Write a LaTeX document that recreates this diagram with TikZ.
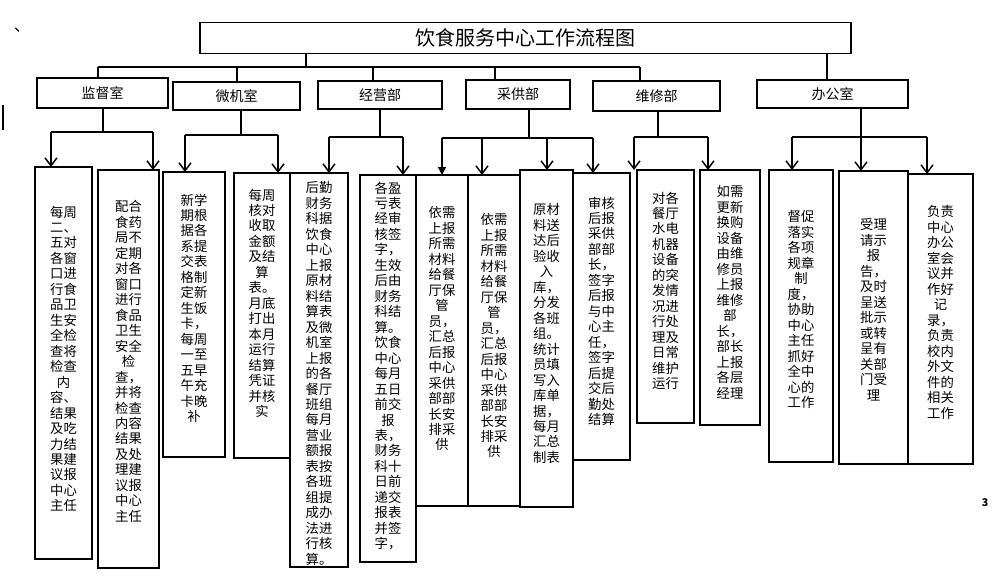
\documentclass[tikz,border=0pt]{standalone}
\usepackage{fontspec}
\setmainfont{Noto Sans CJK SC}
\usetikzlibrary{arrows.meta}

\tikzset{every picture/.style={line width=1.1pt}}
\tikzset{
  head/.style={draw, inner sep=0pt, outer sep=0pt, font=\fontsize{10.5}{12}\selectfont},
  leaf/.style={draw, inner sep=0pt, outer sep=0pt},
  txt/.style={align=center, inner sep=0pt, font=\fontsize{10}{11.6}\selectfont},
  arr/.style={-{Straight Barb[length=6pt,width=9pt]}},
  farr/.style={-{Triangle[length=6pt,width=6pt]}}
}
% box: name, x1, y1, x2, y2, text top, text
\newcommand\leaf[7]{%
  \node[leaf, minimum width={(#4-#2)*0.75pt}, minimum height={(#5-#3)*0.75pt}] (#1) at ({(#2+#4)/2},{(#3+#5)/2}) {};
  \node[txt, anchor=north] (#1t) at ({(#2+#4)/2},#6) {#7};}
\newcommand\head[6]{%
  \node[head, minimum width={(#4-#2)*0.75pt}, minimum height={(#5-#3)*0.75pt}] (#1) at ({(#2+#4)/2},{(#3+#5)/2}) {#6};}

\begin{document}
\begin{tikzpicture}[x=0.75pt,y=0.75pt,yscale=-1,xscale=1]
\useasboundingbox (0,0) rectangle (994,576);

% Title
\node[leaf, minimum width={651*0.75pt}, minimum height={31*0.75pt}, font=\fontsize{15}{18}\selectfont] (title) at (525.5,38) {饮食服务中心工作流程图};
\node[font=\fontsize{12}{12}\selectfont] (dot) at (22,30) {、};
\node[font=\bfseries\fontsize{8}{8}\selectfont] (pg) at (985,503) {3};
\draw (3,105) -- (3,130);

% Departments
\head{jd}{37}{78}{168}{108}{监督室}
\head{wj}{173}{82}{300}{110}{微机室}
\head{jy}{318}{81}{442}{109}{经营部}
\head{cg}{466}{80}{570}{109}{采供部}
\head{wx}{593}{81}{720}{111}{维修部}
\head{bg}{757}{80}{908}{108}{办公室}

% Top bus
\coordinate (t0) at (306,67);
\draw (title.south -| t0) -- (t0);
\draw (98,67) -- (640,67);
\foreach \n/\x in {jd/98, wj/237, jy/373, cg/495, wx/640}
  \draw (\x,67) -- (\n.north -| \x,0);
\draw (title.south -| 827,0) -- (bg.north -| 827,0);

% Tasks
\leaf{b1}{35}{167}{92}{559}{205}{每周\\二、\\五对\\各窗\\口进\\行食\\品卫\\生安\\全检\\查将\\检查\\内\\容、\\结果\\及吃\\力结\\果建\\议报\\中心\\主任}
\leaf{b2}{98}{170}{159}{568}{200}{配合\\食药\\局不\\定期\\对各\\窗口\\进行\\食品\\卫生\\安全\\检\\查，\\并将\\检查\\内容\\结果\\及处\\理建\\议报\\中心\\主任}
\leaf{b3}{163}{172}{225}{457}{193}{新学\\期根\\据各\\系提\\交表\\格制\\定新\\生饭\\卡，\\每周\\一至\\五早\\午充\\卡晚\\补}
\leaf{b4}{234}{173}{290}{458}{188}{每周\\核对\\收取\\金额\\及结\\算\\表。\\月底\\打出\\本月\\运行\\结算\\凭证\\并核\\实}
\leaf{b5}{290}{173}{348}{567}{181}{后勤\\财务\\科据\\饮食\\中心\\上报\\原材\\料结\\算表\\及微\\机室\\上报\\的各\\餐厅\\班组\\每月\\营业\\额报\\表按\\各班\\组提\\成办\\法进\\行核\\算。}
\leaf{b6}{360}{175}{416}{562}{181}{各盈\\亏表\\经审\\核签\\字，\\生效\\后由\\财务\\科结\\算。\\饮食\\中心\\每月\\五日\\前交\\报\\表，\\财务\\科十\\日前\\递交\\报表\\并签\\字，}
\leaf{b7}{416}{175}{468}{506}{206}{依需\\上报\\所需\\材料\\给餐\\厅保\\管\\员，\\汇总\\后报\\中心\\采供\\部部\\长安\\排采\\供}
\leaf{b8}{468}{175}{520}{506}{213}{依需\\上报\\所需\\材料\\给餐\\厅保\\管\\员，\\汇总\\后报\\中心\\采供\\部部\\长安\\排采\\供}
\leaf{b9}{520}{170}{573}{507}{203}{原材\\料送\\达后\\验收\\入\\库，\\分发\\各班\\组。\\统计\\员填\\写入\\库单\\据，\\每月\\汇总\\制表}
\leaf{b10}{573}{173}{630}{460}{196}{审核\\后报\\采供\\部部\\长，\\签字\\后报\\与中\\心主\\任，\\签字\\后提\\交后\\勤处\\结算}
\leaf{b11}{637}{170}{694}{423}{191}{对各\\餐厅\\水电\\机器\\设备\\的突\\发情\\况进\\行处\\理及\\日常\\维护\\运行}
\leaf{b12}{700}{170}{760}{425}{185}{如需\\更新\\换购\\设备\\由维\\修员\\上报\\维修\\部\\长，\\部长\\上报\\各层\\经理}
\leaf{b13}{769}{170}{833}{462}{210}{督促\\落实\\各项\\规章\\制\\度，\\协助\\中心\\主任\\抓好\\全中\\心的\\工作}
\leaf{b14}{839}{171}{908}{464}{218}{受理\\请示\\报\\告，\\及时\\呈送\\批示\\或转\\呈有\\关部\\门受\\理}
\leaf{b15}{908}{174}{973}{464}{205}{负责\\中心\\办公\\室会\\议并\\作好\\记\\录，\\负责\\校内\\外文\\件的\\相关\\工作}

% Branches
\foreach \n/\s/\y/\a/\b in {jd/103/132/51/153, wj/241/135/185/278, jy/380/137/329/403, cg/529/138/442/593, wx/658/137/634/708, bg/861/137/792/927}{
  \draw (\n.south -| \s,0) -- (\s,\y);
  \draw (\a,\y) -- (\b,\y);
}
\draw[arr] (51,132) -- (b1.north -| 51,0);
\draw[arr] (153,132) -- (b2.north -| 153,0);
\draw[arr] (185,135) -- (b3.north -| 185,0);
\draw[arr] (278,135) -- (b4.north -| 278,0);
\draw[arr] (329,137) -- (b5.north -| 329,0);
\draw[arr] (403,137) -- (b6.north -| 403,0);
\draw[farr] (442,138) -- (b7.north -| 442,0);
\draw[arr] (482,138) -- (b8.north -| 482,0);
\draw[arr] (547,138) -- (b9.north -| 547,0);
\draw[arr] (593,138) -- (b10.north -| 593,0);
\draw[arr] (634,137) -- (b11.north -| 634,0);
\draw[arr] (708,137) -- (b12.north -| 708,0);
\draw[arr] (792,137) -- (b13.north -| 792,0);
\draw[arr] (861,137) -- (b14.north -| 861,0);
\draw[arr] (927,137) -- (b15.north -| 927,0);

\end{tikzpicture}
\end{document}
